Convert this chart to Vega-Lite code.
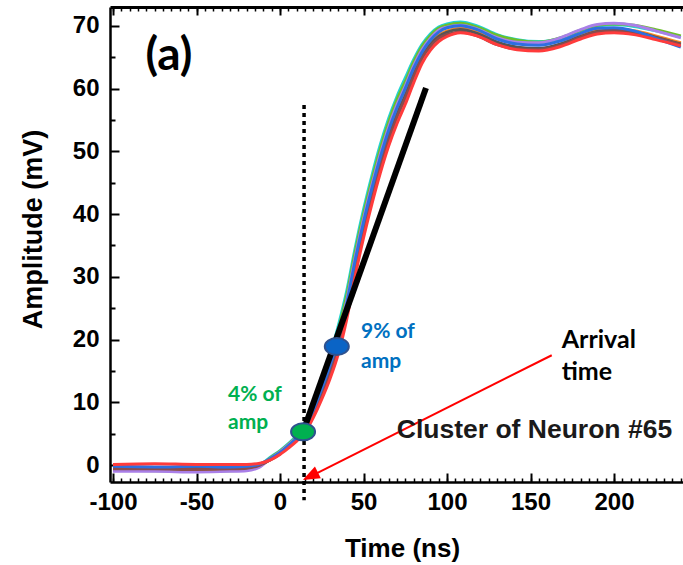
{
  "$schema": "https://vega.github.io/schema/vega-lite/v6.json",
  "width": 573,
  "height": 475,
  "autosize": {"type": "none"},
  "padding": {"left": 110, "top": 7, "right": 0, "bottom": 83},
  "background": "white",
  "config": {
    "view": {"stroke": null},
    "axis": {"grid": false, "domainColor": "black", "tickColor": "black", "labelColor": "black", "titleColor": "black", "labelFont": "Liberation Sans", "titleFont": "Liberation Sans"}
  },
  "datasets": {
    "traces": [
      {"s":"T1","t":-100,"v":-0.6},{"s":"T1","t":-75,"v":-0.5},{"s":"T1","t":-50,"v":-0.7},{"s":"T1","t":-30,"v":-0.7},{"s":"T1","t":-20,"v":-0.5},{"s":"T1","t":-12,"v":0.0},{"s":"T1","t":-6,"v":1.2},{"s":"T1","t":0,"v":2.3},{"s":"T1","t":5,"v":3.4},{"s":"T1","t":10,"v":4.7},{"s":"T1","t":15,"v":6.5},{"s":"T1","t":20,"v":9.6},{"s":"T1","t":25,"v":13.4},{"s":"T1","t":30,"v":17.5},{"s":"T1","t":35,"v":22.3},{"s":"T1","t":40,"v":27.8},{"s":"T1","t":45,"v":34.6},{"s":"T1","t":50,"v":40.7},{"s":"T1","t":55,"v":46.1},{"s":"T1","t":60,"v":51.0},{"s":"T1","t":65,"v":55.2},{"s":"T1","t":70,"v":58.7},{"s":"T1","t":75,"v":61.7},{"s":"T1","t":80,"v":64.6},{"s":"T1","t":85,"v":67.0},{"s":"T1","t":90,"v":68.7},{"s":"T1","t":95,"v":69.8},{"s":"T1","t":100,"v":70.3},{"s":"T1","t":108,"v":70.6},{"s":"T1","t":118,"v":70.0},{"s":"T1","t":130,"v":68.6},{"s":"T1","t":142,"v":67.8},{"s":"T1","t":155,"v":67.5},{"s":"T1","t":168,"v":68.0},{"s":"T1","t":180,"v":69.2},{"s":"T1","t":190,"v":69.9},{"s":"T1","t":200,"v":70.2},{"s":"T1","t":212,"v":69.9},{"s":"T1","t":225,"v":69.2},{"s":"T1","t":240,"v":68.2},
      {"s":"T2","t":-100,"v":-0.8},{"s":"T2","t":-75,"v":-0.9},{"s":"T2","t":-50,"v":-0.8},{"s":"T2","t":-30,"v":-0.9},{"s":"T2","t":-20,"v":-0.7},{"s":"T2","t":-12,"v":-0.2},{"s":"T2","t":-6,"v":1.1},{"s":"T2","t":0,"v":2.2},{"s":"T2","t":5,"v":3.3},{"s":"T2","t":10,"v":4.5},{"s":"T2","t":15,"v":6.3},{"s":"T2","t":20,"v":9.3},{"s":"T2","t":25,"v":13.0},{"s":"T2","t":30,"v":16.9},{"s":"T2","t":35,"v":21.6},{"s":"T2","t":40,"v":27.1},{"s":"T2","t":45,"v":33.9},{"s":"T2","t":50,"v":40.0},{"s":"T2","t":55,"v":45.4},{"s":"T2","t":60,"v":50.3},{"s":"T2","t":65,"v":54.6},{"s":"T2","t":70,"v":58.2},{"s":"T2","t":75,"v":61.1},{"s":"T2","t":80,"v":64.2},{"s":"T2","t":85,"v":66.7},{"s":"T2","t":90,"v":68.4},{"s":"T2","t":95,"v":69.6},{"s":"T2","t":100,"v":70.1},{"s":"T2","t":108,"v":70.4},{"s":"T2","t":118,"v":69.8},{"s":"T2","t":130,"v":68.5},{"s":"T2","t":142,"v":67.7},{"s":"T2","t":155,"v":67.4},{"s":"T2","t":168,"v":68.1},{"s":"T2","t":180,"v":69.3},{"s":"T2","t":190,"v":70.1},{"s":"T2","t":200,"v":70.3},{"s":"T2","t":212,"v":70.1},{"s":"T2","t":225,"v":69.4},{"s":"T2","t":240,"v":68.4},
      {"s":"T3","t":-100,"v":-1.0},{"s":"T3","t":-75,"v":-1.0},{"s":"T3","t":-50,"v":-1.1},{"s":"T3","t":-30,"v":-1.0},{"s":"T3","t":-20,"v":-0.9},{"s":"T3","t":-12,"v":-0.3},{"s":"T3","t":-6,"v":1.0},{"s":"T3","t":0,"v":2.1},{"s":"T3","t":5,"v":3.2},{"s":"T3","t":10,"v":4.4},{"s":"T3","t":15,"v":6.1},{"s":"T3","t":20,"v":9.0},{"s":"T3","t":25,"v":12.5},{"s":"T3","t":30,"v":16.3},{"s":"T3","t":35,"v":20.8},{"s":"T3","t":40,"v":26.3},{"s":"T3","t":45,"v":33.1},{"s":"T3","t":50,"v":39.2},{"s":"T3","t":55,"v":44.6},{"s":"T3","t":60,"v":49.5},{"s":"T3","t":65,"v":53.8},{"s":"T3","t":70,"v":57.4},{"s":"T3","t":75,"v":60.4},{"s":"T3","t":80,"v":63.6},{"s":"T3","t":85,"v":66.2},{"s":"T3","t":90,"v":68.0},{"s":"T3","t":95,"v":69.3},{"s":"T3","t":100,"v":69.8},{"s":"T3","t":108,"v":70.1},{"s":"T3","t":118,"v":69.5},{"s":"T3","t":130,"v":68.1},{"s":"T3","t":142,"v":67.4},{"s":"T3","t":155,"v":67.3},{"s":"T3","t":168,"v":68.1},{"s":"T3","t":180,"v":69.4},{"s":"T3","t":190,"v":70.2},{"s":"T3","t":200,"v":70.4},{"s":"T3","t":212,"v":70.1},{"s":"T3","t":225,"v":69.2},{"s":"T3","t":240,"v":68.1},
      {"s":"T4","t":-100,"v":-0.5},{"s":"T4","t":-75,"v":-0.4},{"s":"T4","t":-50,"v":-0.6},{"s":"T4","t":-30,"v":-0.5},{"s":"T4","t":-20,"v":-0.4},{"s":"T4","t":-12,"v":0.1},{"s":"T4","t":-6,"v":0.9},{"s":"T4","t":0,"v":1.9},{"s":"T4","t":5,"v":3.0},{"s":"T4","t":10,"v":4.2},{"s":"T4","t":15,"v":5.8},{"s":"T4","t":20,"v":8.6},{"s":"T4","t":25,"v":11.9},{"s":"T4","t":30,"v":15.5},{"s":"T4","t":35,"v":19.8},{"s":"T4","t":40,"v":25.3},{"s":"T4","t":45,"v":32.1},{"s":"T4","t":50,"v":38.2},{"s":"T4","t":55,"v":43.6},{"s":"T4","t":60,"v":48.5},{"s":"T4","t":65,"v":52.8},{"s":"T4","t":70,"v":56.4},{"s":"T4","t":75,"v":59.5},{"s":"T4","t":80,"v":62.8},{"s":"T4","t":85,"v":65.5},{"s":"T4","t":90,"v":67.3},{"s":"T4","t":95,"v":68.5},{"s":"T4","t":100,"v":69.2},{"s":"T4","t":108,"v":69.6},{"s":"T4","t":118,"v":69.0},{"s":"T4","t":130,"v":67.4},{"s":"T4","t":142,"v":66.5},{"s":"T4","t":155,"v":66.3},{"s":"T4","t":168,"v":67.1},{"s":"T4","t":180,"v":68.5},{"s":"T4","t":190,"v":69.3},{"s":"T4","t":200,"v":69.5},{"s":"T4","t":212,"v":69.2},{"s":"T4","t":225,"v":68.4},{"s":"T4","t":240,"v":67.3},
      {"s":"T5","t":-100,"v":-0.3},{"s":"T5","t":-75,"v":-0.4},{"s":"T5","t":-50,"v":-0.5},{"s":"T5","t":-30,"v":-0.4},{"s":"T5","t":-20,"v":-0.3},{"s":"T5","t":-12,"v":0.1},{"s":"T5","t":-6,"v":0.8},{"s":"T5","t":0,"v":1.8},{"s":"T5","t":5,"v":2.9},{"s":"T5","t":10,"v":4.0},{"s":"T5","t":15,"v":5.5},{"s":"T5","t":20,"v":8.3},{"s":"T5","t":25,"v":11.5},{"s":"T5","t":30,"v":15.0},{"s":"T5","t":35,"v":19.2},{"s":"T5","t":40,"v":24.7},{"s":"T5","t":45,"v":31.5},{"s":"T5","t":50,"v":37.6},{"s":"T5","t":55,"v":43.0},{"s":"T5","t":60,"v":47.9},{"s":"T5","t":65,"v":52.2},{"s":"T5","t":70,"v":55.8},{"s":"T5","t":75,"v":58.9},{"s":"T5","t":80,"v":62.2},{"s":"T5","t":85,"v":65.0},{"s":"T5","t":90,"v":67.0},{"s":"T5","t":95,"v":68.3},{"s":"T5","t":100,"v":69.0},{"s":"T5","t":108,"v":69.4},{"s":"T5","t":118,"v":68.8},{"s":"T5","t":130,"v":67.4},{"s":"T5","t":142,"v":66.6},{"s":"T5","t":155,"v":66.4},{"s":"T5","t":168,"v":67.1},{"s":"T5","t":180,"v":68.3},{"s":"T5","t":190,"v":69.1},{"s":"T5","t":200,"v":69.3},{"s":"T5","t":212,"v":69.0},{"s":"T5","t":225,"v":68.2},{"s":"T5","t":240,"v":67.1},
      {"s":"T6","t":-100,"v":-0.6},{"s":"T6","t":-75,"v":-0.6},{"s":"T6","t":-50,"v":-0.7},{"s":"T6","t":-30,"v":-0.6},{"s":"T6","t":-20,"v":-0.5},{"s":"T6","t":-12,"v":0.0},{"s":"T6","t":-6,"v":0.8},{"s":"T6","t":0,"v":1.8},{"s":"T6","t":5,"v":2.9},{"s":"T6","t":10,"v":4.0},{"s":"T6","t":15,"v":5.4},{"s":"T6","t":20,"v":8.0},{"s":"T6","t":25,"v":11.1},{"s":"T6","t":30,"v":14.6},{"s":"T6","t":35,"v":18.8},{"s":"T6","t":40,"v":24.3},{"s":"T6","t":45,"v":31.1},{"s":"T6","t":50,"v":37.2},{"s":"T6","t":55,"v":42.6},{"s":"T6","t":60,"v":47.5},{"s":"T6","t":65,"v":51.8},{"s":"T6","t":70,"v":55.4},{"s":"T6","t":75,"v":58.5},{"s":"T6","t":80,"v":61.9},{"s":"T6","t":85,"v":64.8},{"s":"T6","t":90,"v":66.7},{"s":"T6","t":95,"v":68.0},{"s":"T6","t":100,"v":68.6},{"s":"T6","t":108,"v":69.0},{"s":"T6","t":118,"v":68.4},{"s":"T6","t":130,"v":67.0},{"s":"T6","t":142,"v":66.3},{"s":"T6","t":155,"v":66.2},{"s":"T6","t":168,"v":66.9},{"s":"T6","t":180,"v":68.2},{"s":"T6","t":190,"v":69.0},{"s":"T6","t":200,"v":69.2},{"s":"T6","t":212,"v":68.9},{"s":"T6","t":225,"v":68.1},{"s":"T6","t":240,"v":67.0},
      {"s":"T7","t":-100,"v":-0.2},{"s":"T7","t":-75,"v":-0.3},{"s":"T7","t":-50,"v":-0.2},{"s":"T7","t":-30,"v":-0.3},{"s":"T7","t":-20,"v":-0.2},{"s":"T7","t":-12,"v":0.2},{"s":"T7","t":-6,"v":1.0},{"s":"T7","t":0,"v":2.0},{"s":"T7","t":5,"v":3.1},{"s":"T7","t":10,"v":4.3},{"s":"T7","t":15,"v":6.0},{"s":"T7","t":20,"v":8.8},{"s":"T7","t":25,"v":12.2},{"s":"T7","t":30,"v":15.9},{"s":"T7","t":35,"v":20.3},{"s":"T7","t":40,"v":25.8},{"s":"T7","t":45,"v":32.6},{"s":"T7","t":50,"v":38.7},{"s":"T7","t":55,"v":44.1},{"s":"T7","t":60,"v":49.0},{"s":"T7","t":65,"v":53.3},{"s":"T7","t":70,"v":56.9},{"s":"T7","t":75,"v":60.0},{"s":"T7","t":80,"v":63.2},{"s":"T7","t":85,"v":65.8},{"s":"T7","t":90,"v":67.7},{"s":"T7","t":95,"v":69.0},{"s":"T7","t":100,"v":69.7},{"s":"T7","t":108,"v":70.0},{"s":"T7","t":118,"v":69.4},{"s":"T7","t":130,"v":67.9},{"s":"T7","t":142,"v":67.1},{"s":"T7","t":155,"v":66.9},{"s":"T7","t":168,"v":67.6},{"s":"T7","t":180,"v":68.8},{"s":"T7","t":190,"v":69.6},{"s":"T7","t":200,"v":69.7},{"s":"T7","t":212,"v":69.2},{"s":"T7","t":225,"v":68.0},{"s":"T7","t":240,"v":66.6},
      {"s":"T8","t":-100,"v":0.1},{"s":"T8","t":-75,"v":0.2},{"s":"T8","t":-50,"v":0.1},{"s":"T8","t":-30,"v":0.1},{"s":"T8","t":-20,"v":0.1},{"s":"T8","t":-12,"v":0.3},{"s":"T8","t":-6,"v":0.8},{"s":"T8","t":0,"v":1.7},{"s":"T8","t":5,"v":2.7},{"s":"T8","t":10,"v":3.8},{"s":"T8","t":15,"v":5.2},{"s":"T8","t":20,"v":7.6},{"s":"T8","t":25,"v":10.5},{"s":"T8","t":30,"v":13.8},{"s":"T8","t":35,"v":17.8},{"s":"T8","t":40,"v":23.3},{"s":"T8","t":45,"v":30.1},{"s":"T8","t":50,"v":36.2},{"s":"T8","t":55,"v":41.6},{"s":"T8","t":60,"v":46.5},{"s":"T8","t":65,"v":50.8},{"s":"T8","t":70,"v":54.4},{"s":"T8","t":75,"v":57.5},{"s":"T8","t":80,"v":60.9},{"s":"T8","t":85,"v":64.0},{"s":"T8","t":90,"v":66.1},{"s":"T8","t":95,"v":67.5},{"s":"T8","t":100,"v":68.3},{"s":"T8","t":108,"v":68.9},{"s":"T8","t":118,"v":68.4},{"s":"T8","t":130,"v":67.0},{"s":"T8","t":142,"v":66.2},{"s":"T8","t":155,"v":66.0},{"s":"T8","t":168,"v":66.7},{"s":"T8","t":180,"v":67.9},{"s":"T8","t":190,"v":68.7},{"s":"T8","t":200,"v":68.9},{"s":"T8","t":212,"v":68.6},{"s":"T8","t":225,"v":67.8},{"s":"T8","t":240,"v":66.8}
    ]
  },
  "layer": [
    {
      "data": {"name": "traces"},
      "mark": {"type": "line", "interpolate": "monotone", "strokeWidth": 3},
      "encoding": {
        "x": {"field": "t", "type": "quantitative",
              "scale": {"domain": [-101.8, 241.3], "nice": false, "zero": false},
              "axis": {"orient": "bottom", "values": [-100, -50, 0, 50, 100, 150, 200], "labelExpr": "'' + datum.value", "tickSize": -9, "tickWidth": 2, "domainWidth": 2.5,
                       "labelFontSize": 24, "labelFontWeight": "bold", "labelPadding": 17, "labelFlush": false, "labelOverlap": false,
                       "title": "Time (ns)", "titleFontSize": 26, "titleFontWeight": "bold", "titleX": 292, "titleY": 66, "titleBaseline": "middle", "titleAlign": "center"}},
        "y": {"field": "v", "type": "quantitative",
              "scale": {"domain": [-2.7, 73.0], "nice": false, "zero": false},
              "axis": {"orient": "left", "values": [0, 10, 20, 30, 40, 50, 60, 70], "tickSize": -9, "tickWidth": 2, "domainWidth": 2.5,
                       "labelFontSize": 24, "labelFontWeight": "bold", "labelPadding": 20, "labelOverlap": false, "labelFlush": false,
                       "title": "Amplitude (mV)", "titleFontSize": 27, "titleFontWeight": "bold", "titleX": -77, "titleY": 222, "titleAngle": -90, "titleBaseline": "middle", "titleAlign": "center"}},
        "color": {"field": "s", "type": "nominal", "legend": null,
                  "scale": {"domain": ["T1", "T2", "T3", "T4", "T5", "T6", "T7", "T8"],
                            "range": ["#20d4d4", "#6cbf2a", "#a97fe8", "#ff8a1f", "#555555", "#8b4c4c", "#2e6fe0", "#ff3b3b"]}}
      }
    },
    {
      "data": {"values": [{"t": 13.8, "v": 5.3}, {"t": 87.4, "v": 60.1}]},
      "mark": {"type": "line", "color": "black", "strokeWidth": 6},
      "encoding": {
        "x": {"field": "t", "type": "quantitative",
              "axis": {"orient": "bottom", "values": [-100,-95,-90,-85,-80,-75,-70,-65,-60,-55,-50,-45,-40,-35,-30,-25,-20,-15,-10,-5,0,5,10,15,20,25,30,35,40,45,50,55,60,65,70,75,80,85,90,95,100,105,110,115,120,125,130,135,140,145,150,155,160,165,170,175,180,185,190,195,200,205,210,215,220,225,230,235,240],
                       "tickSize": -4, "tickWidth": 1.5, "labels": false, "domain": false, "title": null}},
        "y": {"field": "v", "type": "quantitative",
              "axis": {"orient": "left", "values": [5, 15, 25, 35, 45, 55, 65], "tickSize": -5, "tickWidth": 2, "labels": false, "domain": false, "title": null}}
      }
    },
    {
      "data": {"values": [{"t": 14.4, "v": 57.4, "v2": -5.6}]},
      "mark": {"type": "rule", "color": "black", "strokeWidth": 3.5, "strokeDash": [4, 4], "strokeCap": "butt"},
      "encoding": {
        "x": {"field": "t", "type": "quantitative",
              "axis": {"orient": "top", "values": [-100, -50, 0, 50, 100, 150, 200], "tickSize": -8, "tickWidth": 2, "domainWidth": 3, "labels": false, "title": null}},
        "y": {"field": "v", "type": "quantitative", "axis": null},
        "y2": {"field": "v2"}
      }
    },
    {
      "data": {"values": [{"t": 162.7, "v": 17.5}, {"t": 18.0, "v": -1.85}]},
      "mark": {"type": "line", "color": "#ff0000", "strokeWidth": 2},
      "encoding": {
        "x": {"field": "t", "type": "quantitative",
              "axis": {"orient": "top", "values": [-100,-95,-90,-85,-80,-75,-70,-65,-60,-55,-50,-45,-40,-35,-30,-25,-20,-15,-10,-5,0,5,10,15,20,25,30,35,40,45,50,55,60,65,70,75,80,85,90,95,100,105,110,115,120,125,130,135,140,145,150,155,160,165,170,175,180,185,190,195,200,205,210,215,220,225,230,235,240],
                       "tickSize": -4, "tickWidth": 1.5, "labels": false, "domain": false, "title": null}},
        "y": {"field": "v", "type": "quantitative", "axis": null}
      }
    },
    {
      "data": {"values": [{"t": 13.6, "v": -2.4}]},
      "mark": {"type": "point", "shape": "M0,0L-0.65,1.7L0.65,1.7Z", "size": 400, "filled": true, "color": "#ff0000", "opacity": 1, "angle": 243},
      "encoding": {
        "x": {"field": "t", "type": "quantitative", "axis": null},
        "y": {"field": "v", "type": "quantitative", "axis": null}
      }
    },
    {
      "data": {"values": [{"t": 13.8, "v": 5.3, "k": "4%"}, {"t": 34.0, "v": 18.9, "k": "9%"}]},
      "mark": {"type": "point", "shape": "M-1.2,0A1.2,0.85 0 1,0 1.2,0A1.2,0.85 0 1,0 -1.2,0Z", "size": 400, "filled": true, "stroke": "#2f528f", "strokeWidth": 2, "opacity": 1},
      "encoding": {
        "x": {"field": "t", "type": "quantitative", "axis": null},
        "y": {"field": "v", "type": "quantitative", "axis": null},
        "fill": {"field": "k", "type": "nominal", "legend": null, "scale": {"domain": ["4%", "9%"], "range": ["#00b050", "#0a64c6"]}}
      }
    },
    {
      "data": {"values": [{"t": -66.5, "v": 65.2, "label": "(a)"}]},
      "mark": {"type": "text", "font": "Lato", "fontWeight": "bold", "fontSize": 46, "align": "center", "baseline": "middle", "color": "black"},
      "encoding": {
        "x": {"field": "t", "type": "quantitative", "axis": null},
        "y": {"field": "v", "type": "quantitative", "axis": null},
        "text": {"field": "label"}
      }
    },
    {
      "data": {"values": [{"t": -31.1, "v": 11.2, "label": "4% of"}, {"t": -31.1, "v": 6.7, "label": "amp"}]},
      "mark": {"type": "text", "font": "Lato", "fontWeight": "bold", "fontSize": 21, "align": "left", "baseline": "middle", "color": "#00b050"},
      "encoding": {
        "x": {"field": "t", "type": "quantitative", "axis": null},
        "y": {"field": "v", "type": "quantitative", "axis": null},
        "text": {"field": "label"}
      }
    },
    {
      "data": {"values": [{"t": 48.5, "v": 21.2, "label": "9% of"}, {"t": 48.5, "v": 16.5, "label": "amp"}]},
      "mark": {"type": "text", "font": "Lato", "fontWeight": "bold", "fontSize": 21, "align": "left", "baseline": "middle", "color": "#0070c0"},
      "encoding": {
        "x": {"field": "t", "type": "quantitative", "axis": null},
        "y": {"field": "v", "type": "quantitative", "axis": null},
        "text": {"field": "label"}
      }
    },
    {
      "data": {"values": [{"t": 168.7, "v": 19.9, "label": "Arrival"}, {"t": 168.7, "v": 14.9, "label": "time"}]},
      "mark": {"type": "text", "font": "Lato", "fontWeight": "bold", "fontSize": 25, "align": "left", "baseline": "middle", "color": "black"},
      "encoding": {
        "x": {"field": "t", "type": "quantitative", "axis": null},
        "y": {"field": "v", "type": "quantitative", "axis": null},
        "text": {"field": "label"}
      }
    },
    {
      "data": {"values": [{"t": 69.9, "v": 5.6, "label": "Cluster of Neuron #65"}]},
      "mark": {"type": "text", "font": "Liberation Sans", "fontWeight": "bold", "fontSize": 26.5, "align": "left", "baseline": "middle", "color": "#1a1a1a"},
      "encoding": {
        "x": {"field": "t", "type": "quantitative", "axis": null},
        "y": {"field": "v", "type": "quantitative", "axis": null},
        "text": {"field": "label"}
      }
    }
  ],
  "resolve": {"axis": {"x": "independent", "y": "independent"}}
}
